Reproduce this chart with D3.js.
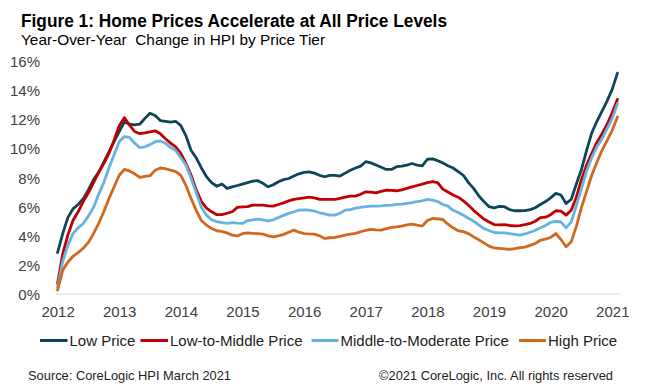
<!DOCTYPE html>
<html>
<head>
<meta charset="utf-8">
<script src="https://cdn.jsdelivr.net/npm/d3@7"></script>
<style>
  html, body { margin: 0; padding: 0; background: #fff; }
  svg { display: block; font-family: Arial, "Liberation Sans", sans-serif; }
</style>
</head>
<body>
<svg id="chart" width="650" height="392"></svg>
<script>
// ---- Data (monthly, Jan 2012 - Feb 2021) ----
const startMonth = new Date(2012, 0, 1);
const endMonthExclusive = new Date(2021, 2, 1);
const yearTicks = ["2012","2013","2014","2015","2016","2017","2018","2019","2020","2021"];
const yTicks = [0, 2, 4, 6, 8, 10, 12, 14, 16];

const seriesNames = ["Low Price", "Low-to-Middle Price", "Middle-to-Moderate Price", "High Price"];
const seriesColors = ["#0E4657", "#C00000", "#66B3E1", "#D0681E"];

const lowPrice = [
  2.8,4.1,5.2,5.8,6.1,6.5,7.1,7.8,8.3,9.0,9.7,10.4,
  11.1,11.75,11.6,11.55,11.6,12.0,12.35,12.2,11.85,11.8,11.75,11.8,
  11.5,10.8,9.8,9.3,8.6,8.0,7.6,7.35,7.5,7.2,7.3,7.4,
  7.5,7.6,7.7,7.73,7.55,7.31,7.45,7.66,7.8,7.88,8.05,8.2,
  8.3,8.34,8.25,8.1,8.0,8.1,8.1,8.05,8.25,8.45,8.6,8.73,
  9.03,8.95,8.8,8.65,8.5,8.5,8.69,8.73,8.8,8.91,8.8,8.75,
  9.2,9.22,9.1,8.95,8.75,8.6,8.35,8.1,7.6,7.2,6.7,6.3,
  5.95,5.87,5.97,5.95,5.75,5.67,5.67,5.68,5.75,5.88,6.1,6.3,
  6.55,6.86,6.75,6.17,6.45,7.5,8.5,9.8,11.0,11.8,12.5,13.2,
  14.0,15.1
];
const lowToMiddle = [
  0.7,2.7,4.0,5.0,5.6,6.3,6.9,7.6,8.3,8.9,9.6,10.5,
  11.5,12.05,11.55,11.1,10.95,11.0,11.08,11.15,10.95,10.6,10.3,10.05,
  9.6,8.9,8.1,7.1,6.3,5.85,5.6,5.4,5.4,5.5,5.6,5.9,
  5.93,5.95,6.06,6.06,6.05,6.0,5.99,6.1,6.21,6.35,6.45,6.5,
  6.55,6.6,6.55,6.45,6.45,6.45,6.45,6.52,6.6,6.67,6.67,6.8,
  6.97,6.95,6.9,7.0,7.09,7.07,7.04,7.1,7.2,7.3,7.4,7.5,
  7.6,7.66,7.6,7.15,6.95,6.75,6.6,6.35,6.05,5.7,5.4,5.1,
  4.9,4.72,4.7,4.72,4.66,4.63,4.65,4.72,4.8,4.95,5.2,5.23,
  5.4,5.67,5.65,5.37,5.7,6.6,7.8,8.8,9.6,10.35,10.95,11.6,
  12.4,13.3
];
const middleToModerate = [
  0.45,2.2,3.3,4.1,4.5,4.8,5.3,5.9,6.8,7.6,8.6,9.5,
  10.4,10.75,10.7,10.3,10.0,10.05,10.2,10.4,10.45,10.3,10.0,9.8,
  9.3,8.8,7.9,6.9,5.9,5.37,5.05,4.93,4.85,4.8,4.85,4.82,
  4.8,5.0,5.05,5.09,5.05,4.98,5.05,5.21,5.35,5.49,5.6,5.71,
  5.72,5.71,5.65,5.53,5.45,5.37,5.37,5.5,5.71,5.75,5.85,5.9,
  5.95,5.99,5.99,6.0,6.04,6.06,6.1,6.13,6.18,6.23,6.29,6.35,
  6.45,6.4,6.3,6.1,5.99,5.7,5.55,5.37,5.15,4.95,4.7,4.45,
  4.32,4.18,4.16,4.16,4.1,4.05,4.0,4.08,4.2,4.33,4.5,4.65,
  4.88,4.95,4.9,4.5,4.9,6.0,7.2,8.4,9.3,10.05,10.6,11.3,
  12.0,13.0
];
const highPrice = [
  0.23,1.6,2.15,2.55,2.8,3.1,3.5,4.1,4.8,5.6,6.5,7.3,
  8.1,8.5,8.4,8.2,7.95,8.02,8.07,8.45,8.6,8.55,8.45,8.35,
  8.1,7.4,6.5,5.7,5.0,4.68,4.45,4.3,4.25,4.15,4.0,3.95,
  4.1,4.16,4.12,4.1,4.07,3.95,3.88,3.95,4.05,4.2,4.34,4.2,
  4.11,4.08,4.07,3.95,3.77,3.82,3.84,3.92,4.0,4.07,4.12,4.23,
  4.32,4.39,4.36,4.34,4.45,4.53,4.57,4.62,4.7,4.75,4.68,4.62,
  5.0,5.14,5.12,5.07,4.75,4.5,4.3,4.24,4.1,3.88,3.68,3.47,
  3.25,3.12,3.09,3.06,3.02,3.08,3.15,3.18,3.3,3.43,3.65,3.72,
  3.85,4.11,3.7,3.2,3.54,4.6,5.9,7.0,8.1,9.0,9.8,10.5,
  11.2,12.1
];
const seriesValues = [lowPrice, lowToMiddle, middleToModerate, highPrice];

// ---- Chart ----
const months = d3.timeMonth.range(startMonth, endMonthExclusive);
const svg = d3.select("#chart");

const x = d3.scalePoint().domain(months.map(d => +d)).range([55, 620]).padding(0.5);
const y = d3.scaleLinear().domain([0, 16]).range([293.5, 60]);

// Title
svg.append("text").attr("x", 21).attr("y", 27)
  .attr("font-size", 18).attr("font-weight", "bold").attr("fill", "#000")
  .attr("textLength", 426).attr("lengthAdjust", "spacingAndGlyphs")
  .text("Figure 1: Home Prices Accelerate at All Price Levels");
svg.append("text").attr("x", 21).attr("y", 45)
  .attr("font-size", 15).attr("fill", "#000")
  .style("white-space", "pre")
  .attr("textLength", 304).attr("lengthAdjust", "spacingAndGlyphs")
  .text("Year-Over-Year  Change in HPI by Price Tier");

// Y axis
const yAxis = svg.append("g").attr("transform", "translate(40,0)")
  .call(d3.axisLeft(y).tickValues(yTicks).tickSize(0).tickPadding(0).tickFormat(d => d + "%"));
yAxis.select(".domain").remove();
yAxis.selectAll("text").attr("font-size", 15).attr("fill", "#404040")
  .attr("font-family", "Arial, 'Liberation Sans', sans-serif").attr("dy", "0.42em");

// X axis
const tickMonths = yearTicks.map(yr => +new Date(+yr, 0, 1));
const xAxis = svg.append("g").attr("transform", "translate(0,293.5)")
  .call(d3.axisBottom(x).tickValues(tickMonths).tickSize(0).tickSizeOuter(0).tickPadding(13)
    .tickFormat(d => String(new Date(d).getFullYear())));
xAxis.select(".domain").attr("stroke", "#d9d9d9").attr("stroke-width", 1.2);
xAxis.selectAll("text").attr("font-size", 15).attr("fill", "#404040")
  .attr("font-family", "Arial, 'Liberation Sans', sans-serif");

// Lines
const line = d3.line().x((d, i) => x(+months[i])).y(d => y(d));
seriesValues.forEach((vals, i) => {
  svg.append("path").datum(vals)
    .attr("fill", "none").attr("stroke", seriesColors[i])
    .attr("stroke-width", 2.8).attr("stroke-linejoin", "round").attr("stroke-linecap", "round")
    .attr("d", line);
});

// Legend
const legendItems = [
  {x1: 40, x2: 67.5, tx: 69.5},
  {x1: 140.5, x2: 168, tx: 170},
  {x1: 311.5, x2: 338.5, tx: 340.5},
  {x1: 519, x2: 546, tx: 548}
];
const legend = svg.append("g");
seriesNames.forEach((name, i) => {
  const it = legendItems[i];
  legend.append("line").attr("x1", it.x1).attr("x2", it.x2).attr("y1", 340.5).attr("y2", 340.5)
    .attr("stroke", seriesColors[i]).attr("stroke-width", 3);
  legend.append("text").attr("x", it.tx).attr("y", 345.5).attr("font-size", 15).attr("fill", "#222")
    .text(name);
});

// Footer
svg.append("text").attr("x", 28).attr("y", 380).attr("font-size", 13).attr("fill", "#222")
  .attr("textLength", 203).attr("lengthAdjust", "spacingAndGlyphs")
  .text("Source: CoreLogic HPI March 2021");
svg.append("text").attr("x", 379).attr("y", 380).attr("font-size", 13).attr("fill", "#222")
  .attr("textLength", 234).attr("lengthAdjust", "spacingAndGlyphs")
  .text("\u00A92021 CoreLogic, Inc. All rights reserved");
</script>
</body>
</html>
